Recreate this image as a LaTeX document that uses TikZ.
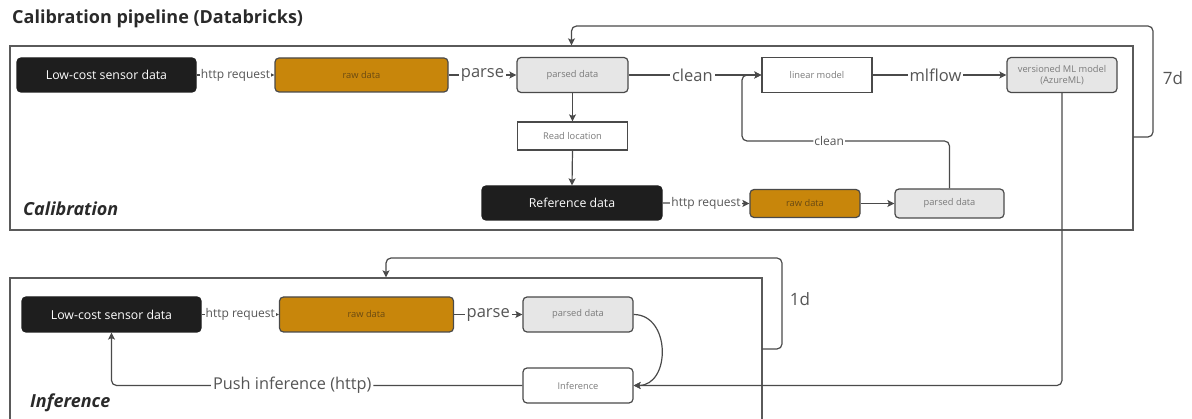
\documentclass[tikz,border=0pt]{standalone}
\usepackage{fontspec}
\setmainfont{Open Sans}
\usetikzlibrary{arrows.meta}
\definecolor{ink}{HTML}{4A4A4A}
\definecolor{frameC}{HTML}{5A5A5A}
\definecolor{darkbox}{HTML}{1E1E1E}
\definecolor{ochre}{HTML}{C8860B}
\definecolor{ochretext}{HTML}{6A4A12}
\definecolor{lightbox}{HTML}{E6E6E6}
\definecolor{boxtext}{HTML}{7A7A7A}
\definecolor{lbltext}{HTML}{555555}
\definecolor{titleC}{HTML}{2A2A2A}

\begin{document}
\begin{tikzpicture}[x=1pt,y=-1pt,
  box/.style={draw=ink, line width=1.2pt, inner sep=0pt, align=center},
  darknode/.style={box, fill=darkbox, draw=darkbox, rounded corners=4pt, text=white, font=\fontsize{12.3}{14}\selectfont},
  ochrenode/.style={box, fill=ochre, rounded corners=4pt, text=ochretext, font=\fontsize{9.3}{11.5}\selectfont},
  greynode/.style={box, fill=lightbox, rounded corners=4pt, text=boxtext, font=\fontsize{9.3}{11.5}\selectfont},
  whitenode/.style={box, fill=white, text=boxtext, font=\fontsize{9.3}{11.5}\selectfont},
  frame/.style={draw=frameC, line width=1.3pt, inner sep=0pt},
  conn/.style={draw=ink, line width=1.2pt, -{Stealth[length=7pt,width=7pt,inset=1.5pt]}},
  big/.style={fill=white, inner sep=2pt, text=lbltext, font=\fontsize{16.5}{19}\selectfont},
  small/.style={fill=white, inner sep=1pt, text=lbltext, font=\fontsize{12}{14}\selectfont},
  section/.style={anchor=west, inner sep=0pt, text=titleC, font=\bfseries\itshape\fontsize{18}{21}\selectfont},
]
\useasboundingbox (0,0) rectangle (1192,419);

% title
\node[anchor=west, inner sep=0pt, text=titleC, font=\bfseries\fontsize{18}{21}\selectfont] (title) at (12,19) {Calibration pipeline (Databricks)};

% ---------------- calibration frame ----------------
\node[frame, minimum width=1123pt, minimum height=184pt] (calbox) at (571.5,138) {};
\node[section] (caltitle) at (23,209) {Calibration};

\node[darknode, minimum width=179pt, minimum height=34pt] (lc1) at (106.5,75) {Low-cost sensor data};
\node[ochrenode, minimum width=173pt, minimum height=34pt] (raw1) at (361.5,75) {raw data};
\node[greynode, minimum width=111pt, minimum height=35pt] (pd1) at (572.5,75) {parsed data};
\node[whitenode, minimum width=110pt, minimum height=35pt] (lin) at (817,75) {linear model};
\node[greynode, minimum width=110pt, minimum height=35pt] (ver) at (1062,75) {versioned ML model\\(AzureML)};
\node[whitenode, minimum width=110pt, minimum height=28pt] (rl) at (572.5,136) {Read location};
\node[darknode, minimum width=180pt, minimum height=34pt] (ref) at (572,203) {Reference data};
\node[ochrenode, minimum width=110pt, minimum height=28pt] (raw2) at (805,203.5) {raw data};
\node[greynode, minimum width=109pt, minimum height=29pt] (pd2) at (949.5,203.5) {parsed data};

\draw[conn] (lc1.east) -- node[small]{http request} (raw1.west);
\draw[conn] (raw1.east) -- node[big]{parse} (pd1.west);
\draw[conn] (pd1.east) -- node[big, pos=0.48]{clean} (lin.west);
\draw[conn] (lin.east) -- node[big, pos=0.47]{mlflow} (ver.west);
\draw[conn] (pd1.south) -- (rl.north);
\draw[conn] (rl.south) -- (ref.north);
\draw[conn] (ref.east) -- node[small]{http request} (raw2.west);
\draw[conn] (raw2.east) -- (pd2.west);

% second cleaning path joins the main one
\coordinate (cleanturn) at (742,141);
\draw[conn, rounded corners=5pt] (pd2.north) |- node[small, pos=0.79]{clean} (cleanturn) |- (lin.west);

% weekly retraining loop
\coordinate (sevenout) at (1133,137);
\coordinate (sevencorner) at (1153,26);
\draw[conn, rounded corners=5pt] (sevenout) -| (sevencorner) -| (calbox.north);
\node[text=lbltext, font=\fontsize{17}{20}\selectfont, inner sep=0pt] (sevend) at (1173,78) {7d};

% ---------------- inference frame ----------------
\node[frame, minimum width=752pt, minimum height=182pt] (infbox) at (386,369) {};
\node[section] (inftitle) at (30,403) {Inference};

\node[darknode, minimum width=179pt, minimum height=35pt] (lc2) at (111.5,314.5) {Low-cost sensor data};
\node[ochrenode, minimum width=174pt, minimum height=35pt] (raw3) at (366.5,314.5) {raw data};
\node[greynode, minimum width=110pt, minimum height=35pt] (pd3) at (578,314.5) {parsed data};
\node[whitenode, rounded corners=4pt, minimum width=110pt, minimum height=35pt] (inf) at (578,385.5) {Inference};

\draw[conn] (lc2.east) -- node[small]{http request} (raw3.west);
\draw[conn] (raw3.east) -- node[big]{parse} (pd3.west);
\draw[conn] (pd3.east) to[out=0, in=0, looseness=1.35] (inf.east);
\draw[conn, rounded corners=5pt] (ver.south) |- (inf.east);
\draw[conn, rounded corners=5pt] (inf.west) -| node[big, pos=0.28, font=\fontsize{16.3}{19}\selectfont]{Push inference (http)} (lc2.south);

% daily inference loop
\coordinate (oneout) at (762,349);
\coordinate (onecorner) at (782,258);
\draw[conn, rounded corners=5pt] (oneout) -| (onecorner) -| (infbox.north);
\node[text=lbltext, font=\fontsize{17}{20}\selectfont, inner sep=0pt] (oned) at (800,299) {1d};

\end{tikzpicture}
\end{document}
